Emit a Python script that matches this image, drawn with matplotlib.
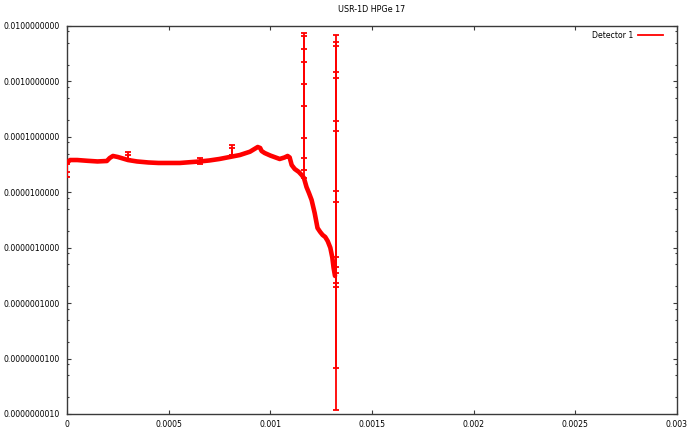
import matplotlib
matplotlib.use("Agg")
import matplotlib.pyplot as plt
from matplotlib.lines import Line2D
from matplotlib.ticker import FixedLocator, FuncFormatter, FormatStrFormatter, NullFormatter

# main curve
curve_x = [0, 1.5e-5, 5e-5, 1.0e-4, 1.5e-4, 1.96e-4, 2.1e-4, 2.26e-4, 2.5e-4, 3.0e-4,
           3.44e-4, 4.0e-4, 4.5e-4, 5.0e-4, 5.55e-4, 6.53e-4, 7.0e-4, 7.5e-4, 8.0e-4, 8.5e-4,
           9.0e-4, 9.38e-4, 9.5e-4, 9.57e-4, 9.72e-4, 1.0e-3, 1.046e-3, 1.07e-3, 1.085e-3, 1.095e-3,
           1.105e-3, 1.12e-3, 1.14e-3, 1.154e-3, 1.165e-3, 1.178e-3, 1.19e-3, 1.203e-3, 1.218e-3,
           1.232e-3, 1.245e-3, 1.257e-3, 1.270e-3, 1.282e-3, 1.295e-3, 1.305e-3, 1.311e-3, 1.318e-3]
curve_y = [3.38e-5, 3.82e-5, 3.82e-5, 3.7e-5, 3.6e-5, 3.67e-5, 4.15e-5, 4.52e-5, 4.33e-5, 3.82e-5,
           3.6e-5, 3.45e-5, 3.38e-5, 3.38e-5, 3.38e-5, 3.6e-5, 3.75e-5, 3.99e-5, 4.33e-5, 4.7e-5,
           5.4e-5, 6.56e-5, 6.3e-5, 5.56e-5, 5.11e-5, 4.6e-5, 3.99e-5, 4.25e-5, 4.52e-5, 4.25e-5,
           3.1e-5, 2.63e-5, 2.33e-5, 2.05e-5, 1.82e-5, 1.24e-5, 9.7e-6, 7.26e-6, 4.23e-6,
           2.27e-6, 1.93e-6, 1.70e-6, 1.56e-6, 1.32e-6, 1.0e-6, 6.6e-7, 4.35e-7, 3.1e-7]

# error bars (x, low, high)
err_x = [0, 0, 3.0e-4, 3.0e-4, 6.53e-4, 8.1e-4, 8.1e-4,
         1.164e-3, 1.164e-3, 1.164e-3, 1.164e-3, 1.164e-3,
         1.324e-3, 1.324e-3, 1.324e-3, 1.324e-3, 1.324e-3, 1.324e-3, 1.324e-3, 1.324e-3]
err_lo = [1.9e-5, 2.3e-5, 3.8e-5, 4.0e-5, 3.3e-5, 4.4e-5, 4.8e-5,
          1.8e-5, 2.52e-5, 4.21e-5, 9.66e-5, 3.6e-4,
          1.18e-9, 6.84e-9, 1.98e-7, 2.31e-7, 3.5e-7, 4.54e-7, 6.88e-7, 6.76e-6]
err_hi = [3.6e-5, 3.3e-5, 5.3e-5, 4.7e-5, 4.1e-5, 7.1e-5, 6.3e-5,
          7.57e-3, 6.6e-3, 3.85e-3, 2.27e-3, 8.87e-4,
          6.88e-3, 5.21e-3, 4.36e-3, 1.5e-3, 1.14e-3, 1.93e-4, 1.28e-4, 1.05e-5]

x_ticks = [0, 0.0005, 0.001, 0.0015, 0.002, 0.0025, 0.003]
y_ticks = [1e-9, 1e-8, 1e-7, 1e-6, 1e-5, 1e-4, 1e-3, 1e-2]
y_minor = [m * d for d in y_ticks[:-1] for m in (2, 5, 8)]
title = "USR-1D HPGe 17"
series_name = "Detector 1"

red = "#ff0000"
border = "#3a3a3a"

plt.rcParams['font.family'] = ['DejaVu Sans']
fig = plt.figure(figsize=(6.9, 4.32), dpi=100)
ax = fig.add_axes([67 / 690, 18 / 432, 610 / 690, 388 / 432])

ax.plot(curve_x, curve_y, color=red, lw=3.3, solid_capstyle='round', solid_joinstyle='round', zorder=3)
ax.vlines(err_x, err_lo, err_hi, color=red, lw=1.3, zorder=3)
ax.plot(err_x, err_lo, ls='none', marker='_', ms=5, mew=1.3, color=red, zorder=3)
ax.plot(err_x, err_hi, ls='none', marker='_', ms=5, mew=1.3, color=red, zorder=3)

ax.set_yscale('log')
ax.set_ylim(1e-9, 1e-2)
ax.set_xlim(0, 0.003)

ax.xaxis.set_major_locator(FixedLocator(x_ticks))
ax.xaxis.set_major_formatter(FuncFormatter(lambda v, p: '%g' % v))
ax.yaxis.set_major_locator(FixedLocator(y_ticks))
ax.yaxis.set_minor_locator(FixedLocator(y_minor))
ax.yaxis.set_major_formatter(FormatStrFormatter('%.10f'))
ax.yaxis.set_minor_formatter(NullFormatter())

ax.tick_params(which='both', direction='in', top=True, right=True, colors=border,
               labelcolor='black', labelsize=5.6)
ax.tick_params(which='major', length=3, width=0.8)
ax.tick_params(which='minor', length=1.6, width=0.8)
ax.tick_params(axis='y', pad=5)
ax.tick_params(axis='x', pad=4)
for s in ax.spines.values():
    s.set_color(border)
    s.set_linewidth(1.0)

ax.set_title(title, fontsize=5.8, pad=10)

handle = Line2D([], [], color=red, lw=1.3)
ax.legend([handle], [series_name], loc='upper right', frameon=False, fontsize=5.6,
          markerfirst=False, handlelength=3.2, handletextpad=0.6,
          borderaxespad=0.2, bbox_to_anchor=(0.985, 1.0))

fig.savefig("out.png", dpi=100)
